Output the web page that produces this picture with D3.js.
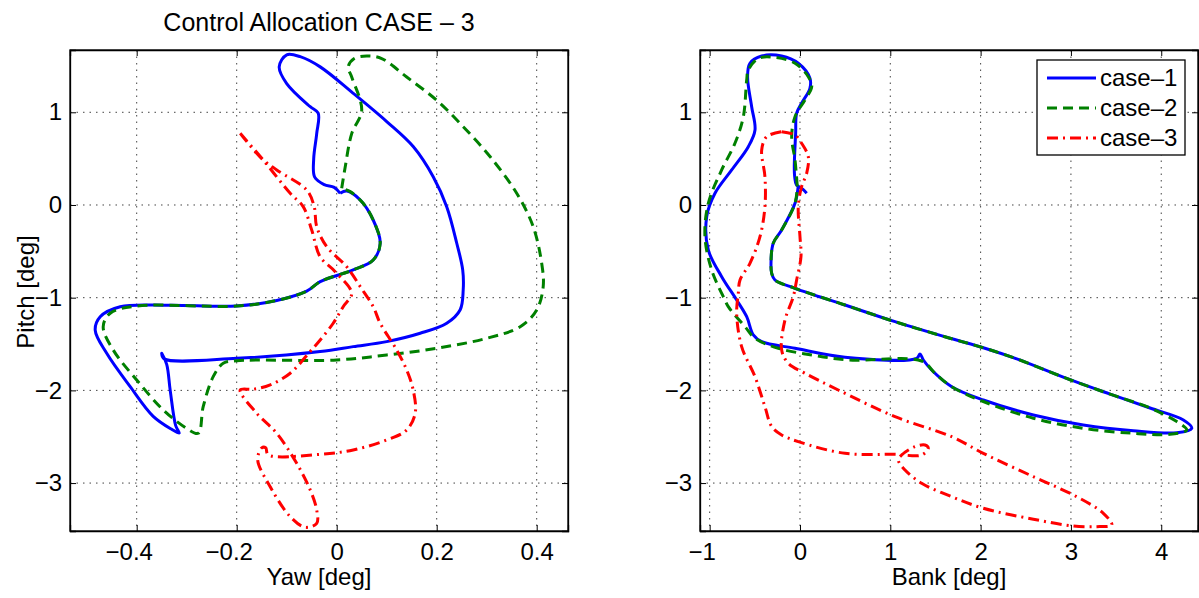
<!DOCTYPE html>
<html>
<head>
<meta charset="utf-8">
<script src="https://cdn.jsdelivr.net/npm/d3@7"></script>
<style>
  body { margin: 0; background: #fff; }
  svg { font-family: "Liberation Sans", Arial, sans-serif; }
</style>
</head>
<body>
<script>
// ---- data ----
const seriesNames = ['case\u20131', 'case\u20132', 'case\u20133']
const seriesColors = ['#0000ff', '#008000', '#ff0000']
const seriesDash = [null, '10,6', '11,5,2,5']

const yawTicks = [-0.4, -0.2, 0, 0.2, 0.4]
const bankTicks = [-1, 0, 1, 2, 3, 4]
const pitchTicks = [-3, -2, -1, 0, 1]

// left panel: [yaw, pitch]
const case1YawPitch = [
  [0.007, 0.126], [0.02, 0.15], [0.047, 0.054], [0.073, -0.162], [0.087, -0.413],
  [0.073, -0.593], [0.033, -0.70], [-0.033, -0.827], [-0.06, -0.93], [-0.12, -1.03],
  [-0.2, -1.09], [-0.333, -1.082], [-0.433, -1.097], [-0.473, -1.205], [-0.483, -1.35],
  [-0.46, -1.6], [-0.413, -1.96], [-0.367, -2.28], [-0.33, -2.42], [-0.315, -2.46],
  [-0.322, -2.38], [-0.333, -2.0], [-0.34, -1.72], [-0.35, -1.6], [-0.345, -1.66],
  [-0.2, -1.654], [-0.033, -1.58], [0.033, -1.528], [0.1, -1.474], [0.167, -1.384],
  [0.22, -1.276], [0.247, -1.13], [0.253, -0.917], [0.252, -0.70], [0.24, -0.41],
  [0.22, -0.018], [0.193, 0.305], [0.153, 0.63], [0.1, 0.9], [0.033, 1.205],
  [-0.033, 1.49], [-0.073, 1.60], [-0.1, 1.62], [-0.115, 1.49], [-0.1, 1.31],
  [-0.053, 1.06], [-0.037, 0.99], [-0.04, 0.77], [-0.046, 0.5], [-0.044, 0.30],
  [-0.025, 0.22], [-0.005, 0.19], [0.007, 0.126]
]
const case2YawPitch = [
  [0.01, 0.18], [0.017, 0.41], [0.03, 0.77], [0.05, 1.02], [0.03, 1.38],
  [0.023, 1.49], [0.035, 1.58], [0.06, 1.607], [0.09, 1.58], [0.14, 1.38],
  [0.2, 1.13], [0.253, 0.845], [0.307, 0.52], [0.36, 0.126], [0.393, -0.234],
  [0.41, -0.63], [0.413, -0.88], [0.4, -1.133], [0.367, -1.313], [0.3, -1.438],
  [0.2, -1.546], [0.1, -1.618], [0, -1.672], [-0.2, -1.68], [-0.227, -1.708],
  [-0.247, -1.852], [-0.267, -2.176], [-0.277, -2.463], [-0.3, -2.41], [-0.347, -2.21],
  [-0.4, -1.888], [-0.447, -1.564], [-0.467, -1.313], [-0.453, -1.168], [-0.4, -1.09],
  [-0.2, -1.09], [-0.12, -1.03], [-0.06, -0.93], [-0.033, -0.827], [0.033, -0.70],
  [0.073, -0.593], [0.087, -0.413], [0.073, -0.162], [0.053, 0.018], [0.027, 0.144],
  [0.01, 0.18]
]
const case3YawPitch = [
  [-0.193, 0.773], [-0.15, 0.50], [-0.12, 0.378], [-0.06, 0.162], [-0.045, -0.018],
  [-0.04, -0.234], [-0.02, -0.45], [0.02, -0.666], [0.047, -0.88], [0.073, -1.097],
  [0.087, -1.276], [0.12, -1.564], [0.14, -1.78], [0.153, -1.996], [0.157, -2.247],
  [0.14, -2.427], [0.1, -2.535], [0.033, -2.643], [-0.033, -2.69], [-0.137, -2.695],
  [-0.142, -2.62], [-0.15, -2.62], [-0.158, -2.75], [-0.133, -3.039], [-0.093, -3.362],
  [-0.063, -3.477], [-0.04, -3.434], [-0.04, -3.29], [-0.053, -3.074], [-0.08, -2.787],
  [-0.12, -2.463], [-0.16, -2.247], [-0.193, -1.996], [-0.167, -1.988], [-0.133, -1.94],
  [-0.093, -1.815], [-0.053, -1.58], [-0.033, -1.456], [-0.007, -1.276], [0.013, -1.097],
  [0.03, -0.953], [-0.003, -0.72], [-0.033, -0.56], [-0.05, -0.27], [-0.067, -0.018],
  [-0.093, 0.126], [-0.147, 0.485], [-0.193, 0.773]
]

// right panel: [bank, pitch]
const case1BankPitch = [
  [0.074, 0.126], [0.03, 0.17], [-0.04, 0.22], [-0.058, 0.3], [-0.063, 0.413],
  [-0.048, 0.773], [-0.037, 0.99], [0.018, 1.097], [0.11, 1.259], [0.11, 1.367],
  [-0.019, 1.529], [-0.203, 1.607], [-0.424, 1.607], [-0.554, 1.529], [-0.58, 1.384],
  [-0.535, 1.06], [-0.498, 0.809], [-0.572, 0.629], [-0.756, 0.378], [-0.941, 0.126],
  [-1.033, -0.126], [-1.015, -0.485], [-0.867, -0.773], [-0.701, -1.025], [-0.59, -1.205],
  [-0.517, -1.402], [-0.424, -1.475], [-0.055, -1.546], [0.498, -1.643], [1.292, -1.654],
  [1.329, -1.607], [1.366, -1.672], [1.458, -1.78], [1.68, -1.96], [2.03, -2.104],
  [2.584, -2.265], [3.137, -2.373], [3.691, -2.435], [4.172, -2.456], [4.338, -2.409],
  [4.245, -2.319], [3.876, -2.19], [3.433, -2.04], [2.99, -1.885], [2.4, -1.66],
  [2.03, -1.54], [1.661, -1.438], [1.052, -1.259], [0.498, -1.079], [-0.055, -0.899],
  [-0.277, -0.809], [-0.313, -0.737], [-0.321, -0.629], [-0.296, -0.413], [-0.203, -0.27],
  [-0.055, 0.018], [-0.02, 0.2]
]
const case2BankPitch = [
  [-0.03, 0.2], [-0.055, 0.485], [-0.092, 0.737], [-0.055, 0.953], [0.055, 1.133],
  [0.13, 1.276], [0.092, 1.384], [-0.055, 1.529], [-0.277, 1.593], [-0.461, 1.582],
  [-0.572, 1.456], [-0.59, 1.348], [-0.627, 0.953], [-0.72, 0.666], [-0.867, 0.378],
  [-1.015, 0.018], [-1.052, -0.342], [-0.978, -0.701], [-0.831, -1.025], [-0.794, -1.097],
  [-0.609, -1.313], [-0.498, -1.438], [-0.24, -1.546], [0.13, -1.618], [0.535, -1.672],
  [1.347, -1.683], [1.495, -1.815], [1.68, -1.96], [2.03, -2.12], [2.584, -2.30],
  [3.137, -2.409], [3.691, -2.463], [4.097, -2.474], [4.282, -2.427], [4.172, -2.337],
  [3.876, -2.19], [3.433, -2.04], [2.99, -1.885], [2.4, -1.66], [2.03, -1.54],
  [1.661, -1.438], [1.052, -1.259], [0.498, -1.079], [-0.055, -0.899], [-0.277, -0.809],
  [-0.313, -0.737], [-0.321, -0.629], [-0.296, -0.413], [-0.203, -0.27], [-0.055, 0.018],
  [-0.03, 0.2]
]
const case3BankPitch = [
  [-0.203, 0.791], [-0.055, 0.755], [0.018, 0.666], [0.092, 0.521], [0.074, 0.342],
  [0.018, 0.197], [-0.019, -0.018], [0, -0.342], [0.011, -0.558], [-0.037, -0.809],
  [-0.074, -0.989], [-0.166, -1.241], [-0.203, -1.564], [-0.129, -1.708], [0.055, -1.815],
  [0.424, -1.996], [1.052, -2.284], [1.68, -2.5], [2.03, -2.679], [2.584, -2.931],
  [3.064, -3.147], [3.359, -3.326], [3.452, -3.452], [3.286, -3.47], [3.027, -3.463],
  [2.584, -3.39], [2.03, -3.272], [1.68, -3.147], [1.347, -3.002], [1.163, -2.859],
  [1.089, -2.751], [1.126, -2.697], [1.274, -2.607], [1.384, -2.589], [1.421, -2.625],
  [1.347, -2.697], [1.052, -2.69], [0.498, -2.679], [-0.019, -2.553], [-0.203, -2.481],
  [-0.313, -2.391], [-0.388, -2.176], [-0.498, -1.852], [-0.646, -1.528], [-0.701, -1.168],
  [-0.683, -0.953], [-0.664, -0.809], [-0.554, -0.629], [-0.443, -0.342], [-0.388, -0.018],
  [-0.388, 0.305], [-0.424, 0.593], [-0.369, 0.737], [-0.203, 0.791]
]

// ---- layout ----
const width = 1199
const height = 598
const fontSize = 24

const svg = d3.select('body').append('svg')
  .attr('width', width)
  .attr('height', height)

function panel({ left, right, top, bottom, xDomain, xTicks, xFormat, xLabel, series, title, id }) {
  const x = d3.scaleLinear().domain(xDomain).range([left, right])
  const y = d3.scaleLinear().domain([-3.517, 1.672]).range([bottom, top])

  const g = svg.append('g')

  g.append('clipPath').attr('id', id)
    .append('rect')
    .attr('x', left).attr('y', top)
    .attr('width', right - left).attr('height', bottom - top)

  // dotted grid
  const grid = g.append('g')
    .attr('stroke', '#444')
    .attr('stroke-width', 1)
    .attr('stroke-dasharray', '1.5,5')
  xTicks.forEach(t => {
    grid.append('line').attr('x1', x(t)).attr('x2', x(t)).attr('y1', top).attr('y2', bottom)
  })
  pitchTicks.forEach(t => {
    grid.append('line').attr('x1', left).attr('x2', right).attr('y1', y(t)).attr('y2', y(t))
  })

  // axes with inward ticks, MATLAB style
  const tick = 6
  g.append('g').attr('transform', `translate(0,${bottom})`)
    .call(d3.axisBottom(x).tickValues(xTicks).tickSize(-tick).tickPadding(12).tickFormat(xFormat))
    .call(a => a.selectAll('.tick text').attr('dx', d => (d < 0 ? -8 : 0)))
  g.append('g').attr('transform', `translate(0,${top})`)
    .call(d3.axisTop(x).tickValues(xTicks).tickSize(-tick).tickFormat(''))
  g.append('g').attr('transform', `translate(${left},0)`)
    .call(d3.axisLeft(y).tickValues(pitchTicks).tickSize(-tick).tickPadding(8)
      .tickFormat(d => d3.format('')(d).replace('-', '\u2212')))
  g.append('g').attr('transform', `translate(${right},0)`)
    .call(d3.axisRight(y).tickValues(pitchTicks).tickSize(-tick).tickFormat(''))

  g.selectAll('.domain').attr('stroke', '#000').attr('stroke-width', 1.3)
  g.selectAll('.tick line').attr('stroke', '#000')
  g.selectAll('.tick text')
    .attr('font-size', fontSize)
    .attr('font-family', '"Liberation Sans", Arial, sans-serif')
    .attr('fill', '#000')

  // curves
  const line = d3.line()
    .x(d => x(d[0]))
    .y(d => y(d[1]))
    .curve(d3.curveCatmullRom.alpha(0.5))

  const plot = g.append('g').attr('clip-path', `url(#${id})`)
  series.forEach((data, i) => {
    plot.append('path')
      .datum(data)
      .attr('fill', 'none')
      .attr('stroke', seriesColors[i])
      .attr('stroke-width', 3)
      .attr('stroke-linejoin', 'round')
      .attr('stroke-dasharray', seriesDash[i])
      .attr('d', line)
  })

  // box redrawn on top
  g.append('rect')
    .attr('x', left).attr('y', top)
    .attr('width', right - left).attr('height', bottom - top)
    .attr('fill', 'none')
    .attr('stroke', '#000')
    .attr('stroke-width', 1.3)

  g.append('text')
    .attr('x', (left + right) / 2)
    .attr('y', 585)
    .attr('text-anchor', 'middle')
    .attr('font-size', fontSize)
    .text(xLabel)

  if (title) {
    g.append('text')
      .attr('x', (left + right) / 2)
      .attr('y', 31)
      .attr('text-anchor', 'middle')
      .attr('font-size', 25)
      .text(title)
  }
  return { x, y, g }
}

const fmtYaw = d => (d === 0 ? '0' : d3.format('.1f')(d).replace('-', '\u2212'))
const fmtBank = d => d3.format('')(d).replace('-', '\u2212')

panel({
  id: 'clipL', left: 70, right: 568, top: 50, bottom: 531,
  xDomain: [-0.5334, 0.4626], xTicks: yawTicks, xFormat: fmtYaw,
  xLabel: 'Yaw [deg]', title: 'Control Allocation CASE \u2013 3',
  series: [case1YawPitch, case2YawPitch, case3YawPitch]
})

panel({
  id: 'clipR', left: 700, right: 1198, top: 50, bottom: 531,
  xDomain: [-1.107, 4.407], xTicks: bankTicks, xFormat: fmtBank,
  xLabel: 'Bank [deg]',
  series: [case1BankPitch, case2BankPitch, case3BankPitch]
})

svg.append('text')
  .attr('transform', 'translate(34,292) rotate(-90)')
  .attr('text-anchor', 'middle')
  .attr('font-size', fontSize)
  .text('Pitch [deg]')

// legend
const legend = svg.append('g').attr('transform', 'translate(1037,60)')
legend.append('rect')
  .attr('width', 148).attr('height', 95)
  .attr('fill', '#fff').attr('stroke', '#000').attr('stroke-width', 1.3)
seriesNames.forEach((name, i) => {
  const cy = 18 + i * 30
  legend.append('line')
    .attr('x1', 10).attr('x2', 59).attr('y1', cy).attr('y2', cy)
    .attr('stroke', seriesColors[i]).attr('stroke-width', 3)
    .attr('stroke-dasharray', seriesDash[i])
  legend.append('text')
    .attr('x', 63).attr('y', cy + 8)
    .attr('font-size', fontSize)
    .text(name)
})
</script>
</body>
</html>
